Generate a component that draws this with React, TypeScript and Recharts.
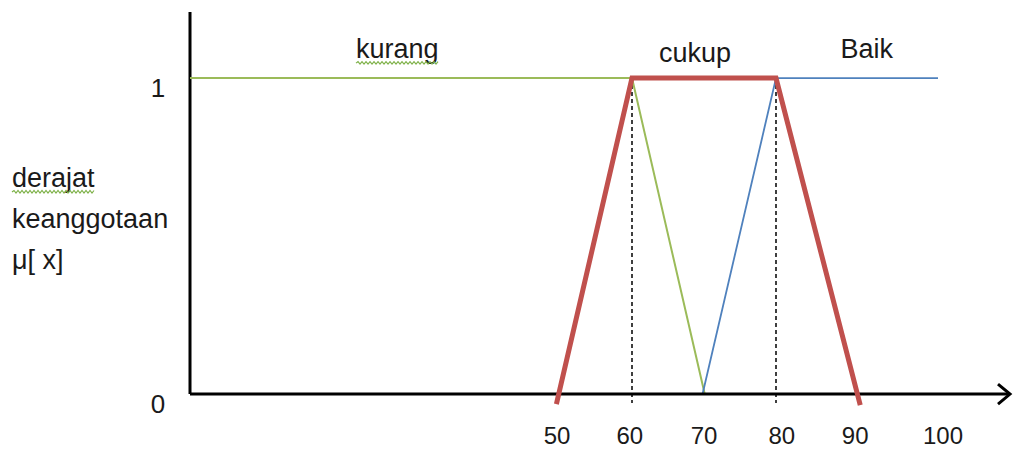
import React from 'react';
import { LineChart, Line, XAxis, YAxis, ReferenceLine, ReferenceDot } from 'recharts';

const kurang = [
  { x: -1.39, y: 1 },
  { x: 60, y: 1 },
  { x: 70.1, y: 0 },
];
const baik = [
  { x: 69.8, y: 0 },
  { x: 80, y: 1 },
  { x: 102.5, y: 1 },
];
const cukup = [
  { x: 49.5, y: -0.032 },
  { x: 60, y: 1 },
  { x: 80, y: 1 },
  { x: 91.7, y: -0.035 },
];
const dashedAt = [60, 80];
const xTickValues = [49.6, 59.7, 70, 80.8, 91, 103.2];
const xTickLabels = ['50', '60', '70', '80', '90', '100'];
const yTickValues = [0, 1];
const yTickLabels = ['0', '1'];
const seriesNames = ['kurang', 'cukup', 'Baik'];
const seriesLabelX = [27.4, 68.75, 92.6];
const seriesLabelY = [1.063, 1.051, 1.063];
const yTitleLines = ['derajat', 'keanggotaan', 'μ[ x]'];

const X_MIN = -1.39;
const X_MAX = 112.5;
const Y_MIN = -0.079;
const Y_MAX = 1.209;

const FONT = '"Liberation Sans", Arial, sans-serif';
const FS = 27;
const TEXT = '#1a1a1a';

function measure(t: string, size: number) {
  try {
    const c = document.createElement('canvas').getContext('2d');
    if (c) {
      c.font = `${size}px "Liberation Sans", Arial, sans-serif`;
      return c.measureText(t).width;
    }
  } catch (e) {}
  return t.length * size * 0.52;
}

function wavyPath(x0: number, x1: number, y: number) {
  let d = `M ${x0} ${y}`;
  let up = true;
  for (let x = x0 + 2; x <= x1; x += 2) {
    d += ` L ${x} ${up ? y - 1.5 : y + 1}`;
    up = !up;
  }
  return d;
}

const Wavy = ({ x0, x1, y }: { x0: number; x1: number; y: number }) => (
  <path d={wavyPath(x0, x1, y)} stroke="#7fb24a" strokeWidth={1.2} fill="none" />
);

const XTick = (props: any) => {
  const { x, index } = props;
  return (
    <text x={x} y={444} textAnchor="middle" fontFamily={FONT} fontSize={24} fill={TEXT}>
      {xTickLabels[index]}
    </text>
  );
};

const YTick = (props: any) => {
  const { y, index } = props;
  return (
    <text x={158} y={y + 10} textAnchor="middle" dominantBaseline="central" fontFamily={FONT} fontSize={26} fill={TEXT}>
      {yTickLabels[index]}
    </text>
  );
};

const YTitle = () => (
  <g>
    {yTitleLines.map((t, i) => (
      <g key={t}>
        <text x={12} y={187 + i * 41} fontFamily={FONT} fontSize={FS} fill={TEXT}>
          {t}
        </text>
        {i === 0 ? <Wavy x0={12} x1={12 + measure(t, FS)} y={192} /> : null}
      </g>
    ))}
  </g>
);

const SeriesLabel = (name: string, underline: boolean) => (props: any) => {
  const vb = props.viewBox || {};
  const cx = vb.x + (vb.width || 0) / 2;
  const cy = vb.y + (vb.height || 0) / 2;
  const w = measure(name, FS);
  return (
    <g>
      <text x={cx} y={cy} textAnchor="middle" fontFamily={FONT} fontSize={FS} fill={TEXT}>
        {name}
      </text>
      {underline ? <Wavy x0={cx - w / 2} x1={cx + w / 2} y={cy + 5} /> : null}
    </g>
  );
};

const Arrow = (props: any) => {
  const { cx, cy } = props;
  return (
    <path d={`M ${cx - 12} ${cy - 10} L ${cx} ${cy} L ${cx - 12} ${cy + 10}`} stroke="#000" strokeWidth={3} fill="none" />
  );
};

export default function App() {
  return (
    <div style={{ position: 'absolute', left: 0, top: 0, width: 1014, height: 450, background: '#fff' }}>
      <LineChart width={1014} height={450} margin={{ top: 12, right: 4, bottom: 0, left: 0 }}>
        <XAxis
          type="number"
          dataKey="x"
          domain={[X_MIN, X_MAX]}
          ticks={xTickValues}
          axisLine={false}
          tickLine={false}
          tick={<XTick />}
          height={31}
          allowDataOverflow
          interval={0}
        />
        <YAxis
          type="number"
          dataKey="y"
          domain={[Y_MIN, Y_MAX]}
          ticks={yTickValues}
          axisLine={false}
          tickLine={false}
          tick={<YTick />}
          width={190}
          allowDataOverflow
          label={{ content: <YTitle /> }}
        />
        <ReferenceLine
          segment={[{ x: X_MIN, y: 0 }, { x: X_MIN, y: Y_MAX }]}
          stroke="#000"
          strokeWidth={3}
          ifOverflow="visible"
        />
        {dashedAt.map((v) => (
          <ReferenceLine
            key={v}
            segment={[{ x: v, y: 1 }, { x: v, y: -0.028 }]}
            stroke="#000"
            strokeWidth={1.5}
            strokeDasharray="4 3"
            ifOverflow="visible"
          />
        ))}
        <Line data={kurang} dataKey="y" type="linear" stroke="#9bbb59" strokeWidth={2} dot={false} isAnimationActive={false} />
        <Line data={baik} dataKey="y" type="linear" stroke="#4f81bd" strokeWidth={1.8} dot={false} isAnimationActive={false} />
        <ReferenceLine
          segment={[{ x: X_MIN, y: 0 }, { x: X_MAX, y: 0 }]}
          stroke="#000"
          strokeWidth={3}
          ifOverflow="visible"
        />
        <Line data={cukup} dataKey="y" type="linear" stroke="#c0504d" strokeWidth={5} dot={false} isAnimationActive={false} />
        <ReferenceDot x={X_MAX} y={0} r={0} shape={<Arrow />} ifOverflow="visible" />
        {seriesNames.map((n, i) => (
          <ReferenceDot
            key={n}
            x={seriesLabelX[i]}
            y={seriesLabelY[i]}
            r={0}
            fill="none"
            stroke="none"
            ifOverflow="visible"
            label={{ content: SeriesLabel(n, i === 0) }}
          />
        ))}
      </LineChart>
    </div>
  );
}
